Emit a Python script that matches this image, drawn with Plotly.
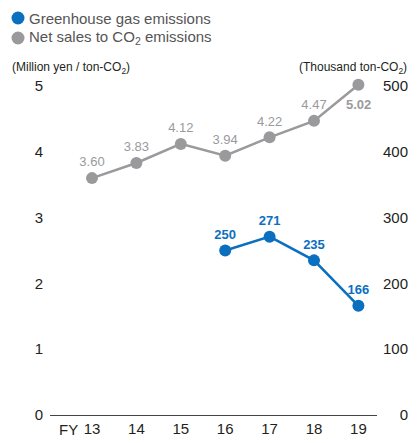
import plotly.graph_objects as go

years = ["13", "14", "15", "16", "17", "18", "19"]
net_sales = [3.60, 3.83, 4.12, 3.94, 4.22, 4.47, 5.02]
ghg_years = ["16", "17", "18", "19"]
ghg = [250, 271, 235, 166]
left_ticks = [0, 1, 2, 3, 4, 5]
right_ticks = [0, 100, 200, 300, 400, 500]
series_names = ["Greenhouse gas emissions", "Net sales to CO<sub>2</sub> emissions"]

BLUE = "#0b6fc0"
GRAY = "#9a9a9c"
NARROW = "Liberation Sans Narrow, Arial Narrow, sans-serif"
REG = "Liberation Sans, Arial, sans-serif"

# page body has an 8px margin; figure is sized so it fits the 417x443 window
OFF = 8
W, H = 417 - OFF, 443 - OFF
L, R, T, B = 50 - OFF, 5, 86 - OFF - 20, 28
pw = W - L - R
ph = H - T - B
unit = 65.8  # px per left-axis unit

gray_text = [f"{v:.2f}" for v in net_sales[:-1]] + [""]

fig = go.Figure()
fig.add_trace(go.Scatter(
    x=years, y=net_sales, mode="lines+markers+text", name=series_names[1],
    line=dict(color=GRAY, width=2.5), marker=dict(color=GRAY, size=12),
    text=gray_text, textposition="top center",
    textfont=dict(family=NARROW, size=13, color=GRAY),
    cliponaxis=False, showlegend=False, yaxis="y"))
fig.add_trace(go.Scatter(
    x=ghg_years, y=ghg, mode="lines+markers+text", name=series_names[0],
    line=dict(color=BLUE, width=2.5), marker=dict(color=BLUE, size=12),
    text=[f"<b>{v}</b>" for v in ghg], textposition="top center",
    textfont=dict(family=NARROW, size=13, color=BLUE),
    cliponaxis=False, showlegend=False, yaxis="y2"))

xw = (377 - OFF) - L
span = xw / 44.4
ytop = 5 + 20 / unit


def px_x(wx):
    return (wx - OFF - L) / pw


def px_y(wy):
    return 1 - (wy - OFF - T) / ph


annotations = [
    # label of the last net-sales point, placed below it (category index of the last year)
    dict(text=f"<b>{net_sales[-1]:.2f}</b>", x=len(years) - 1, y=net_sales[-1], xref="x", yref="y",
         yshift=-20, xanchor="center", yanchor="middle", showarrow=False,
         font=dict(family=NARROW, size=13, color=GRAY)),
    dict(text="(Million yen / ton-CO<sub>2</sub>)", xref="paper", yref="paper",
         x=px_x(10), y=px_y(68), xanchor="left", yanchor="middle",
         showarrow=False, font=dict(family=NARROW, size=12, color="#231f20")),
    dict(text="(Thousand ton-CO<sub>2</sub>)", xref="paper", yref="paper",
         x=px_x(409), y=px_y(68), xanchor="right", yanchor="middle",
         showarrow=False, font=dict(family=NARROW, size=12, color="#231f20")),
    dict(text="FY", xref="paper", yref="paper", x=px_x(80), y=px_y(430),
         xanchor="right", yanchor="middle", showarrow=False, font=dict(size=15, color="#231f20")),
]
shapes = []
# legend: circle swatch + label
for i, (name, col) in enumerate(zip(series_names, [BLUE, GRAY])):
    cy = 18 + 20 * i
    annotations.append(dict(text=name, xref="paper", yref="paper", x=px_x(27), y=px_y(cy),
                            xanchor="left", yanchor="middle", showarrow=False,
                            font=dict(size=15, color="#555")))
    shapes.append(dict(type="circle", xref="paper", yref="paper",
                       x0=px_x(11.5), x1=px_x(24.5), y0=px_y(cy + 6.5), y1=px_y(cy - 6.5),
                       fillcolor=col, line=dict(width=0)))

fig.update_layout(
    width=W, height=H, margin=dict(l=L, r=R, t=T, b=B, autoexpand=False),
    paper_bgcolor="white", plot_bgcolor="white", showlegend=False,
    font=dict(family=REG, size=15, color="#231f20"),
    xaxis=dict(domain=[0, xw / pw], type="category", range=[-0.946, -0.946 + span],
               showgrid=False, zeroline=False, showline=True, linecolor="#444", linewidth=1,
               ticks="", tickvals=years, ticktext=years, tickfont=dict(size=15, color="#231f20"),
               automargin=False),
    yaxis=dict(range=[0, ytop], tickvals=left_ticks, showgrid=False, zeroline=False,
               showline=False, ticks="", ticklabelstandoff=6, automargin=False),
    yaxis2=dict(range=[0, ytop * 100], tickvals=right_ticks, overlaying="y", anchor="free",
                position=px_x(408), side="left", automargin=False,
                showgrid=False, zeroline=False, showline=False, ticks=""),
    annotations=annotations,
    shapes=shapes,
)
fig.write_html("out.html")
